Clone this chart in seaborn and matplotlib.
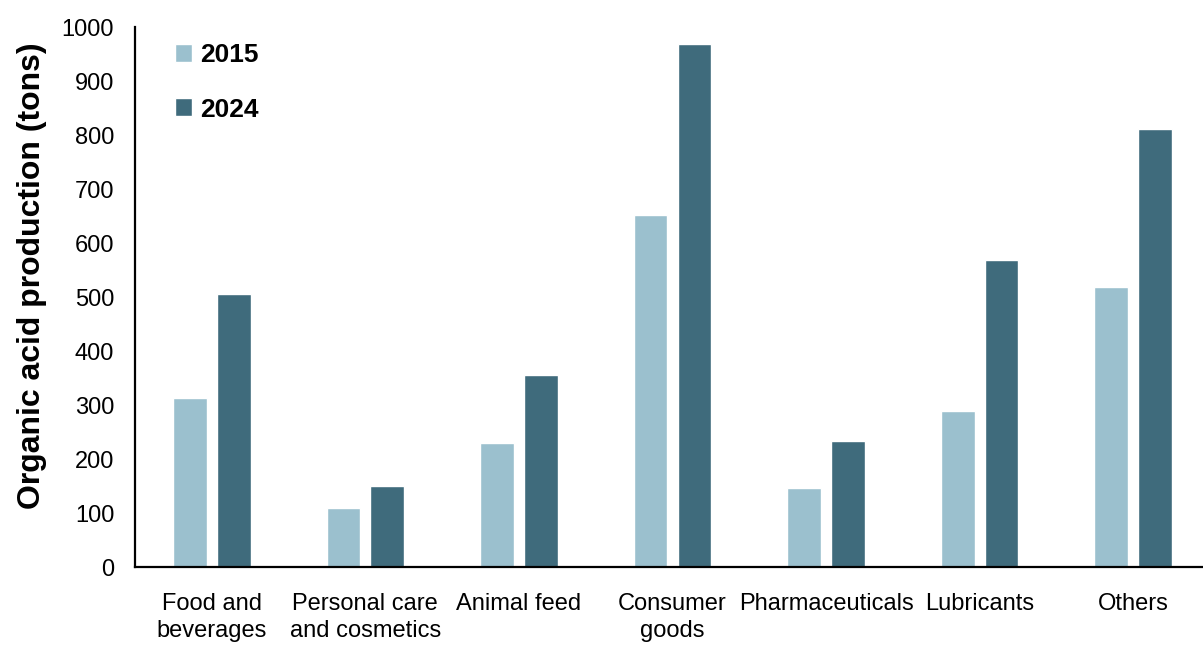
import matplotlib
matplotlib.use("Agg")
import matplotlib.pyplot as plt
import seaborn as sns
import pandas as pd

categories = ["Food and\nbeverages", "Personal care\nand cosmetics", "Animal feed",
              "Consumer\ngoods", "Pharmaceuticals", "Lubricants", "Others"]
years = ["2015", "2024"]
prod_2015 = [313, 109, 230, 652, 146, 289, 519]
prod_2024 = [505, 150, 356, 969, 233, 569, 811]
colors = ["#9bc0ce", "#3f6b7c"]

df = pd.DataFrame({
    "category": categories * 2,
    "year": ["2015"] * len(categories) + ["2024"] * len(categories),
    "tons": prod_2015 + prod_2024,
})

sns.set_theme(style="white")
plt.rcParams["font.family"] = ["Liberation Sans", "DejaVu Sans"]
plt.rcParams["text.color"] = "black"
plt.rcParams["axes.labelcolor"] = "black"
plt.rcParams["xtick.color"] = "black"
plt.rcParams["ytick.color"] = "black"

fig = plt.figure(figsize=(12.03, 6.46), dpi=100)
ax = fig.add_axes([135 / 1203, 1 - 567 / 646, 1075 / 1203, 540 / 646])

sns.barplot(data=df, x="category", y="tons", hue="year", hue_order=years,
            palette=colors, width=0.57, gap=0.23, saturation=1, ax=ax)

ax.set_ylim(0, 1000)
ax.set_xlim(-0.5, 6.5)
ax.set_yticks(range(0, 1001, 100))
ax.set_xlabel("")
ax.set_ylabel("Organic acid production (tons)", fontsize=23, fontweight="bold")
ax.yaxis.set_label_coords(-0.082, 0.54)
ax.tick_params(axis="y", length=0, labelsize=17, pad=15)
ax.tick_params(axis="x", length=0, labelsize=17, pad=19)
for lbl in ax.get_xticklabels():
    lbl.set_linespacing(1.25)
sns.despine(ax=ax, top=True, right=True)
ax.spines["left"].set_color("black")
ax.spines["bottom"].set_color("black")
ax.spines["left"].set_linewidth(1.6)
ax.spines["bottom"].set_linewidth(1.6)

leg = ax.legend(loc="upper left", bbox_to_anchor=(0.015, 1.014), frameon=False,
                handlelength=0.65, handleheight=0.65, handletextpad=0.3,
                labelspacing=1.15, prop={"size": 19, "weight": "bold"})

fig.savefig("out.png", dpi=100)
